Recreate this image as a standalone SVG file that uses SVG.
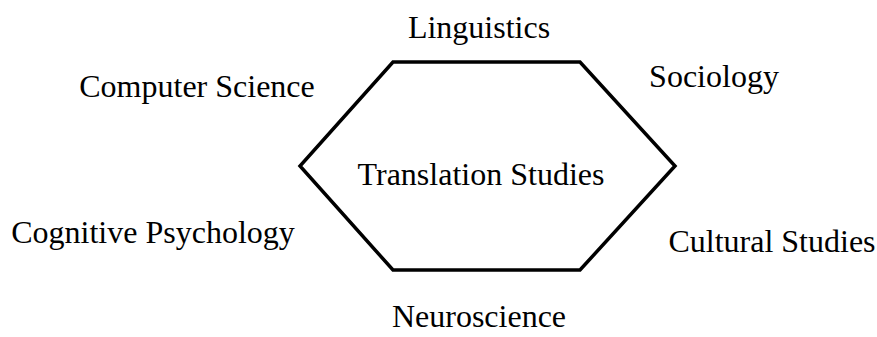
<svg xmlns="http://www.w3.org/2000/svg" width="877" height="337" viewBox="0 0 877 337">
<style>
.t{font-family:"Liberation Serif","Times New Roman",serif;font-size:32px;fill:#000;}
.hex{fill:#fff;stroke:#000;stroke-width:3.5;stroke-linejoin:miter;}
</style>
<rect width="877" height="337" fill="#fff"/>
<g id="translation-studies">
<polygon class="hex" points="393,62 580,62 675,166 580,270 393,270 300,166"/>
<text class="t" x="481" y="185" text-anchor="middle">Translation Studies</text>
</g>
<g id="linguistics"><text class="t" x="479" y="38" text-anchor="middle">Linguistics</text></g>
<g id="computer-science"><text class="t" x="197" y="97" text-anchor="middle">Computer Science</text></g>
<g id="sociology"><text class="t" x="714" y="87" text-anchor="middle">Sociology</text></g>
<g id="cognitive-psychology"><text class="t" x="153" y="243" text-anchor="middle">Cognitive Psychology</text></g>
<g id="cultural-studies"><text class="t" x="772" y="252" text-anchor="middle">Cultural Studies</text></g>
<g id="neuroscience"><text class="t" x="479" y="327" text-anchor="middle">Neuroscience</text></g>
<g id="connectors"></g>
</svg>
